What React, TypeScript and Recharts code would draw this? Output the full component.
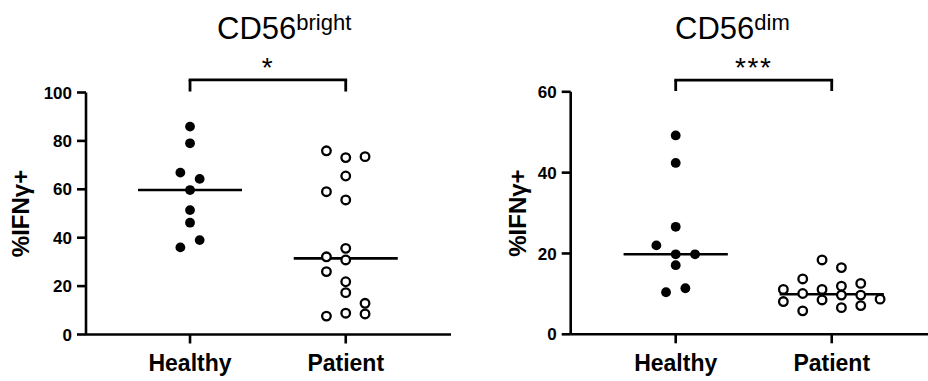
import React from 'react';
import { ScatterChart, Scatter, XAxis, YAxis, ReferenceLine, Label } from 'recharts';

// group names on the x axis (positions 1 and 2)
const groups = ['Healthy', 'Patient'];

// %IFNγ+ in CD56bright NK cells, with the swarm lane of each dot
const brightHealthy = [85.9, 79.0, 66.9, 64.3, 59.7, 51.4, 46.2, 39.0, 36.0];
const brightHealthyLane = [0, 0, -1, 1, 0, 0, 0, 1, -1];
const brightPatient = [75.9, 73.1, 73.5, 65.5, 59.0, 55.6, 35.6, 32.1, 30.8, 26.0, 21.8, 17.3, 12.9, 7.6, 8.8, 8.5];
const brightPatientLane = [-2, 0, 2, 0, -2, 0, 0, -2, 0, -2, 0, 0, 2, -2, 0, 2];

// %IFNγ+ in CD56dim NK cells
const dimHealthy = [49.2, 42.4, 26.6, 22.0, 19.8, 19.8, 17.1, 11.4, 10.4];
const dimHealthyLane = [0, 0, 0, -2, 0, 2, 0, 1, -1];
const dimPatient = [18.4, 16.5, 13.7, 11.1, 11.1, 11.9, 12.6, 10.1, 9.7, 9.7, 8.1, 8.5, 8.7, 6.6, 7.1, 5.8];
const dimPatientLane = [-1, 1, -3, -5, -1, 1, 3, -3, 1, 3, -5, -1, 5, 1, 3, -3];

const brightTicks = [0, 20, 40, 60, 80, 100];
const dimTicks = [0, 20, 40, 60];

const LANE = 0.062; // horizontal spacing between swarm lanes, in x units
const HALF_MEDIAN = 0.334;

const median = (vals: number[]) => {
  const s = [...vals].sort((a, b) => a - b);
  const m = Math.floor(s.length / 2);
  return s.length % 2 ? s[m] : (s[m - 1] + s[m]) / 2;
};

const toPoints = (vals: number[], lanes: number[], group: number) =>
  vals.map((v, i) => ({ x: group + lanes[i] * LANE, y: v }));

const FONT = '"Liberation Sans", Arial, Helvetica, sans-serif';
const line = { stroke: '#000', strokeWidth: 2.6 };

const Filled = (p: any) => <circle cx={p.cx} cy={p.cy} r={4.9} fill="#000" />;
const Open = (p: any) => <circle cx={p.cx} cy={p.cy} r={4.3} fill="#fff" stroke="#000" strokeWidth={2.3} />;

interface PanelProps {
  left: number;
  yAxisWidth: number;
  marginTop: number;
  marginRight: number;
  marginBottom: number;
  xDomain: [number, number];
  yTicks: number[];
  healthy: number[];
  healthyLane: number[];
  patient: number[];
  patientLane: number[];
  bracketTop: number;
  bracketLeg: number;
  stars: string;
  labelOffset: number;
}

const Panel: React.FC<PanelProps> = (p) => {
  const yMax = p.yTicks[p.yTicks.length - 1];
  const medH = median(p.healthy);
  const medP = median(p.patient);
  return (
    <div style={{ position: 'absolute', left: p.left, top: 0 }}>
      <ScatterChart
        width={464}
        height={381}
        margin={{ top: p.marginTop, right: p.marginRight, bottom: p.marginBottom, left: 0 }}
        style={{ fontFamily: FONT }}
      >
        <XAxis
          type="number"
          dataKey="x"
          domain={p.xDomain}
          allowDataOverflow
          ticks={[1, 2]}
          tickFormatter={(v: number) => groups[v - 1]}
          height={40}
          tickSize={9}
          tickMargin={11}
          axisLine={line}
          tickLine={line}
          tick={{ fill: '#000', fontSize: 23, fontWeight: 'bold', fontFamily: FONT }}
        />
        <YAxis
          type="number"
          dataKey="y"
          domain={[0, yMax]}
          ticks={p.yTicks}
          width={p.yAxisWidth}
          tickSize={9}
          tickMargin={5}
          axisLine={line}
          tickLine={line}
          tick={{ fill: '#000', fontSize: 17, fontWeight: 'bold', fontFamily: FONT }}
        >
          <Label
            content={({ viewBox }: any) => (
              <text
                transform={`translate(${viewBox.x + p.labelOffset}, ${viewBox.y + viewBox.height / 2}) rotate(-90)`}
                textAnchor="middle"
                fontSize={24}
                fontWeight="bold"
                fontFamily={FONT}
                fill="#000"
              >
                %IFNγ+
              </text>
            )}
          />
        </YAxis>
        <Scatter data={toPoints(p.healthy, p.healthyLane, 1)} shape={Filled} isAnimationActive={false} />
        <Scatter data={toPoints(p.patient, p.patientLane, 2)} shape={Open} isAnimationActive={false} />
        <ReferenceLine
          segment={[{ x: 1 - HALF_MEDIAN, y: medH }, { x: 1 + HALF_MEDIAN, y: medH }]}
          stroke="#000"
          strokeWidth={2.6}
          ifOverflow="visible"
        />
        <ReferenceLine
          segment={[{ x: 2 - HALF_MEDIAN, y: medP }, { x: 2 + HALF_MEDIAN, y: medP }]}
          stroke="#000"
          strokeWidth={2.6}
          ifOverflow="visible"
        />
        {/* significance bracket */}
        <ReferenceLine
          segment={[{ x: 1, y: p.bracketLeg }, { x: 1, y: p.bracketTop }]}
          stroke="#000"
          strokeWidth={2.8}
          ifOverflow="visible"
        />
        <ReferenceLine
          segment={[{ x: 2, y: p.bracketLeg }, { x: 2, y: p.bracketTop }]}
          stroke="#000"
          strokeWidth={2.8}
          ifOverflow="visible"
        />
        <ReferenceLine
          segment={[{ x: 1, y: p.bracketTop }, { x: 2, y: p.bracketTop }]}
          stroke="#000"
          strokeWidth={2.8}
          strokeLinecap="square"
          ifOverflow="visible"
        >
          <Label value={p.stars} position="top" offset={3} fontSize={28} fill="#000" fontFamily={FONT} letterSpacing={1.5} />
        </ReferenceLine>
      </ScatterChart>
    </div>
  );
};

export default function App() {
  return (
    <div style={{ position: 'absolute', left: 0, top: 0, width: 928, height: 381, background: '#fff', overflow: 'hidden' }}>
      <Panel
        left={0}
        yAxisWidth={86}
        marginTop={92.5}
        marginRight={13}
        marginBottom={6.5}
        xDomain={[0.332, 2.676]}
        yTicks={brightTicks}
        healthy={brightHealthy}
        healthyLane={brightHealthyLane}
        patient={brightPatient}
        patientLane={brightPatientLane}
        bracketTop={105.2}
        bracketLeg={100.4}
        stars="*"
        labelOffset={28.5}
      />
      <Panel
        left={464}
        yAxisWidth={106.7}
        marginTop={91.8}
        marginRight={0}
        marginBottom={6.7}
        xDomain={[0.327, 2.617]}
        yTicks={dimTicks}
        healthy={dimHealthy}
        healthyLane={dimHealthyLane}
        patient={dimPatient}
        patientLane={dimPatientLane}
        bracketTop={62.9}
        bracketLeg={60.2}
        stars="***"
        labelOffset={61.5}
      />
      <svg width={928} height={381} style={{ position: 'absolute', left: 0, top: 0, pointerEvents: 'none' }}>
        <text x={217} y={39} fontSize={31} fontFamily={FONT} fill="#000">
          CD56<tspan dy={-9} fontSize={22}>bright</tspan>
        </text>
        <text x={675} y={39} fontSize={31} fontFamily={FONT} fill="#000">
          CD56<tspan dy={-9} fontSize={22}>dim</tspan>
        </text>
      </svg>
    </div>
  );
}
